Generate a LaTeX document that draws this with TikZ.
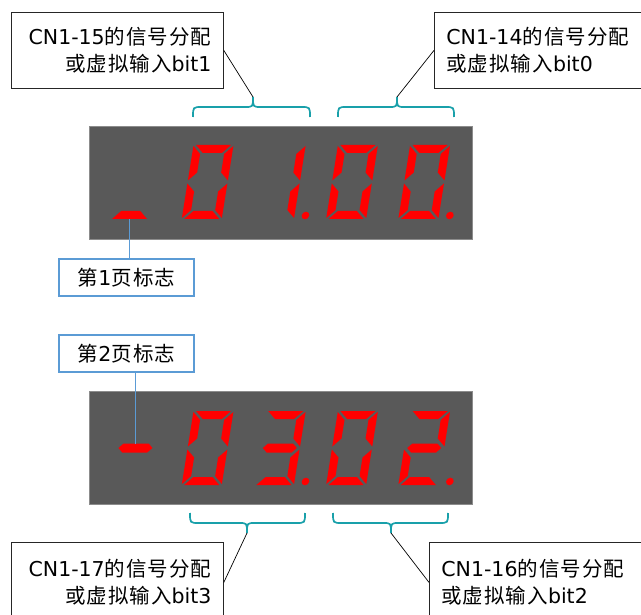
\documentclass[tikz,border=0pt]{standalone}
\usepackage{fontspec}
\setmainfont{DejaVu Sans}
\newfontfamily\zhfont[LetterSpace=5]{Noto Sans CJK SC}
\newcommand{\zh}[1]{{\zhfont#1}}

\definecolor{panel}{RGB}{89,89,89}
\definecolor{panelrim}{RGB}{140,140,140}
\definecolor{segred}{RGB}{255,0,0}
\definecolor{bracecol}{RGB}{25,160,170}
\definecolor{flagblue}{RGB}{91,155,213}

% segments of one digit, upright, y pointing up
\newcommand{\sega}{(2.5,74) -- (37.5,74) -- (29.5,66) -- (10.5,66) -- cycle}
\newcommand{\segb}{(40,73) -- (32,65) -- (32,46.5) -- (40,38.5) -- cycle}
\newcommand{\segc}{(40,1) -- (32,9) -- (32,27.5) -- (40,35.5) -- cycle}
\newcommand{\segd}{(2.5,0) -- (37.5,0) -- (29.5,8) -- (10.5,8) -- cycle}
\newcommand{\sege}{(0,1) -- (8,9) -- (8,27.5) -- (0,35.5) -- cycle}
\newcommand{\segf}{(0,73) -- (8,65) -- (8,46.5) -- (0,38.5) -- cycle}
\newcommand{\segg}{(3,37) -- (7.5,41.5) -- (32.5,41.5) -- (37,37) -- (32.5,32.5) -- (7.5,32.5) -- cycle}

% #1 x, #2 baseline y, #3 lit segments, #4 decimal point (1/0)
\newcommand{\sevenseg}[4]{%
  \begin{scope}[shift={(#1,#2)},yscale=-1,xslant=-0.16]
    \foreach \s in {#3} {\fill[lit] \csname seg\s\endcsname;}
    \ifnum#4=1 \fill[lit] (51,3.5) circle (3.8);\fi
  \end{scope}}

% #1 left, #2 tip, #3 right, #4 base y, #5 rise, #6 name of tip
\newcommand{\bitbrace}[6]{%
  \draw[bracket] (#1,#4) .. controls (#1,#4+#5) .. (#1+9,#4+#5)
    -- (#2-8,#4+#5) .. controls (#2,#4+#5) .. (#2,#4+#5+#5)
    .. controls (#2,#4+#5) .. (#2+8,#4+#5)
    -- (#3-9,#4+#5) .. controls (#3,#4+#5) .. (#3,#4);
  \coordinate (#6) at (#2,#4+#5+#5);}

\begin{document}
\begin{tikzpicture}[x=1pt,y=-1pt,
  callout/.style={draw=black!85,line width=0.8pt,fill=white,inner xsep=12pt,
    text width=188pt,minimum height=76pt,font=\fontsize{20.5}{27}\selectfont},
  flag/.style={draw=flagblue,line width=1.5pt,fill=white,minimum width=135pt,
    minimum height=37pt,inner sep=0pt,font=\fontsize{20.5}{24}\selectfont},
  lit/.style={fill=segred},
  bracket/.style={draw=bracecol,line width=1.7pt},
  leader/.style={draw=black,line width=0.7pt},
  flagline/.style={draw=flagblue,line width=1pt}
]
  \clip (0,0) rectangle (641,615);

  % page 1 display
  \filldraw[fill=panel,draw=panelrim,line width=0.8pt] (89,126) rectangle (472,239);
  \sevenseg{109.5}{219}{d}{0}
  \sevenseg{181.7}{219}{a,b,c,d,e,f}{0}
  \sevenseg{253.9}{219}{b,c}{1}
  \sevenseg{326.1}{219}{a,b,c,d,e,f}{0}
  \sevenseg{398.3}{219}{a,b,c,d,e,f}{1}
  \coordinate (flag1) at (129.5,219);

  % page 2 display
  \filldraw[fill=panel,draw=panelrim,line width=0.8pt] (89,391) rectangle (472,504);
  \sevenseg{109.5}{485}{g}{0}
  \sevenseg{181.7}{485}{a,b,c,d,e,f}{0}
  \sevenseg{253.9}{485}{a,b,c,d,g}{1}
  \sevenseg{326.1}{485}{a,b,c,d,e,f}{0}
  \sevenseg{398.3}{485}{a,b,d,e,g}{1}
  \coordinate (flag2) at (135.5,443.5);

  % page flags
  \node[flag] (page1) at (126.5,277.5) {\zh{第}1\zh{页标志}};
  \node[flag] (page2) at (126.5,353.5) {\zh{第}2\zh{页标志}};
  \draw[flagline] (flag1) -- (flag1 |- page1.north);
  \draw[flagline] (page2.south -| flag2) -- (flag2);

  % braces over the bit groups
  \bitbrace{193}{253}{310}{117}{-10}{tip15}
  \bitbrace{338}{397}{454}{117}{-10}{tip14}
  \bitbrace{190}{247}{305}{513}{10}{tip17}
  \bitbrace{333}{391}{448}{513}{10}{tip16}

  % callouts
  \node[callout,anchor=north west,align=right] (cn15) at (11,12)
    {CN1-15\zh{的信号分配}\\\zh{或虚拟输入}bit1};
  \node[callout,anchor=north west,align=left] (cn14) at (434,12)
    {CN1-14\zh{的信号分配}\\\zh{或虚拟输入}bit0};
  \node[callout,anchor=north west,align=right,minimum height=80pt] (cn17) at (11,542)
    {CN1-17\zh{的信号分配}\\\zh{或虚拟输入}bit3};
  \node[callout,anchor=north west,align=left,minimum height=80pt] (cn16) at (429,542)
    {CN1-16\zh{的信号分配}\\\zh{或虚拟输入}bit2};

  \draw[leader] (cn15.east) -- (tip15);
  \draw[leader] (cn14.west) -- (tip14);
  \draw[leader] (cn17.east) -- (tip17);
  \draw[leader] (cn16.west) -- (tip16);
\end{tikzpicture}
\end{document}
